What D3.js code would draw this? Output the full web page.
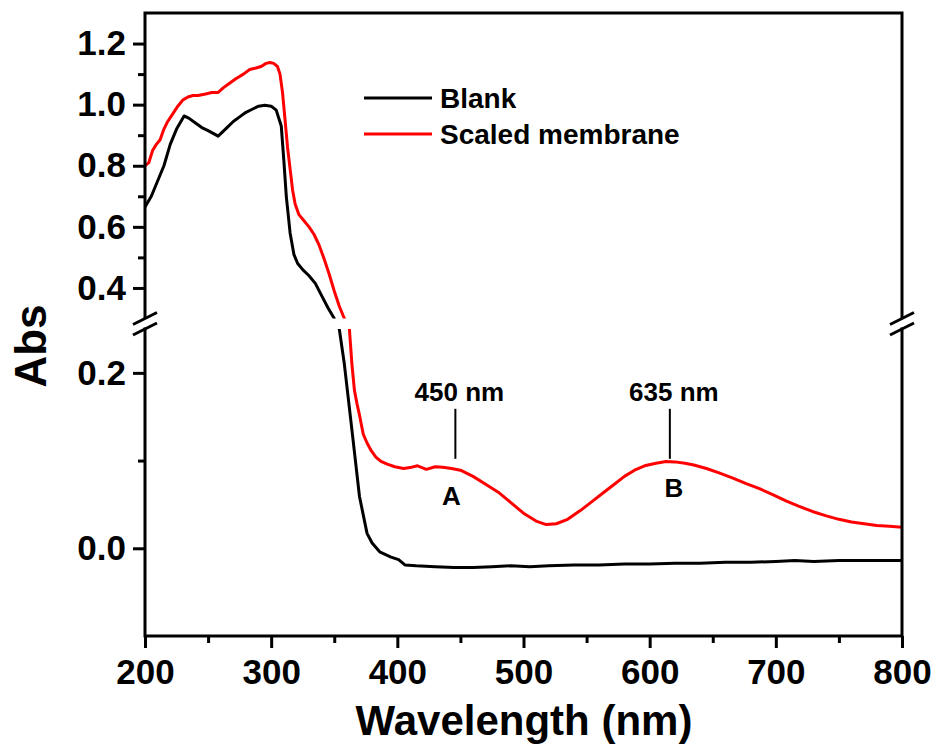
<!DOCTYPE html>
<html>
<head>
<meta charset="utf-8">
<script src="https://cdn.jsdelivr.net/npm/d3@7"></script>
<style>
	body { margin: 0; background: #fff; }
	text { font-family: "Liberation Sans", Arial, sans-serif; font-weight: bold; fill: #000; }
</style>
</head>
<body>
<svg id="chart"></svg>
<script>
const W = 936;
const H = 747;

// Blank (black)
const blankWl = [200, 205, 210, 215, 220, 225, 231, 235, 240, 245, 250, 258, 265, 270, 275, 280, 285, 290, 295, 300, 304, 308, 310, 312, 315, 318, 321, 325, 330, 335, 340, 345, 350, 354, 358, 364, 370, 376, 380, 386, 395, 401, 406, 415, 430, 445, 460, 475, 490, 505, 520, 540, 560, 580, 600, 620, 640, 660, 680, 700, 715, 730, 750, 770, 800];
const blankAbs = [0.665, 0.70, 0.75, 0.80, 0.87, 0.92, 0.963, 0.955, 0.94, 0.925, 0.915, 0.897, 0.925, 0.945, 0.96, 0.975, 0.985, 0.995, 0.998, 0.995, 0.982, 0.93, 0.82, 0.70, 0.58, 0.51, 0.48, 0.46, 0.44, 0.415, 0.375, 0.335, 0.30, 0.25, 0.21, 0.135, 0.059, 0.017, 0.006, -0.004, -0.010, -0.013, -0.019, -0.020, -0.021, -0.022, -0.022, -0.021, -0.020, -0.021, -0.020, -0.019, -0.019, -0.018, -0.018, -0.017, -0.017, -0.016, -0.016, -0.015, -0.014, -0.015, -0.014, -0.014, -0.014];

// Scaled membrane (red)
const membraneWl = [200, 203, 206, 209, 212, 215, 218, 222, 226, 230, 234, 238, 242, 248, 253, 258, 262, 267, 272, 278, 283, 288, 292, 296, 299, 302, 305, 307, 309, 311, 313, 315, 317, 319, 322, 326, 330, 334, 338, 342, 346, 350, 354, 358, 362, 364, 366, 368, 370, 373, 376, 379, 383, 387, 392, 398, 405, 410, 416, 423, 430, 436, 443, 450, 460, 470, 480, 490, 500, 510, 518, 526, 535, 545, 555, 563, 572, 580, 588, 596, 605, 613, 620, 628, 635, 645, 655, 666, 676, 687, 698, 708, 718, 729, 740, 750, 760, 770, 780, 790, 800];
const membraneAbs = [0.80, 0.81, 0.85, 0.87, 0.885, 0.92, 0.945, 0.97, 0.995, 1.015, 1.025, 1.03, 1.03, 1.035, 1.04, 1.04, 1.055, 1.07, 1.085, 1.10, 1.115, 1.12, 1.125, 1.135, 1.138, 1.135, 1.125, 1.10, 1.04, 0.95, 0.86, 0.79, 0.72, 0.675, 0.64, 0.62, 0.60, 0.575, 0.54, 0.495, 0.445, 0.39, 0.34, 0.30, 0.25, 0.21, 0.18, 0.165, 0.152, 0.13, 0.12, 0.112, 0.104, 0.099, 0.096, 0.093, 0.091, 0.092, 0.094, 0.090, 0.093, 0.0925, 0.091, 0.089, 0.082, 0.073, 0.064, 0.052, 0.040, 0.031, 0.027, 0.028, 0.033, 0.043, 0.054, 0.063, 0.073, 0.082, 0.089, 0.094, 0.097, 0.099, 0.0985, 0.097, 0.095, 0.091, 0.086, 0.080, 0.074, 0.068, 0.061, 0.054, 0.048, 0.042, 0.037, 0.033, 0.030, 0.028, 0.026, 0.025, 0.024];

const xTicks = [200, 300, 400, 500, 600, 700, 800];
const xMinorTicks = [250, 350, 450, 550, 650, 750];
const yUpperTicks = [0.4, 0.6, 0.8, 1.0, 1.2];
const yUpperMinor = [0.5, 0.7, 0.9, 1.1];
const yLowerTicks = [0.0, 0.2];
const yLowerMinor = [0.1];

const seriesNames = ["Blank", "Scaled membrane"];
const seriesColors = ["#000000", "#ff0000"];

// peak markers: label, wavelength of leader line, letter
const peaks = [
	{label: "450 nm", wl: 446, letter: "A"},
	{label: "635 nm", wl: 616, letter: "B"}
];

const plotLeft = 145, plotRight = 902, plotTop = 13, plotBottom = 636;
const upperBottom = 318.5, lowerTop = 329;

const svg = d3.select("#chart").attr("width", W).attr("height", H);

const x = d3.scaleLinear().domain([200, 800]).range([plotLeft, plotRight]);
const yUp = d3.scaleLinear().domain([0.3, 1.3]).range([upperBottom, plotTop]);
const yLo = d3.scaleLinear().domain([-0.1, 0.25]).range([plotBottom, lowerTop]);
// piecewise scale so the line runs through the break
const yAll = d3.scaleLinear().domain([-0.1, 0.25, 0.3, 1.3]).range([plotBottom, lowerTop, upperBottom, plotTop]);

let defs = svg.append("defs");
defs.append("clipPath").attr("id", "clipUp").append("rect")
	.attr("x", plotLeft).attr("y", plotTop).attr("width", plotRight - plotLeft).attr("height", upperBottom - plotTop);
defs.append("clipPath").attr("id", "clipLo").append("rect")
	.attr("x", plotLeft).attr("y", lowerTop).attr("width", plotRight - plotLeft).attr("height", plotBottom - lowerTop);

const line = d3.line().x(d => x(d[0])).y(d => yAll(d[1]));
const series = [
	d3.zip(blankWl, blankAbs),
	d3.zip(membraneWl, membraneAbs)
];

["clipUp", "clipLo"].forEach(clip => {
	let g = svg.append("g").attr("clip-path", "url(#" + clip + ")");
	series.forEach((s, i) => {
		g.append("path")
			.attr("d", line(s))
			.attr("fill", "none")
			.attr("stroke", seriesColors[i])
			.attr("stroke-width", 3)
			.attr("stroke-linejoin", "round");
	});
});

// axes
function styleAxis(g) {
	g.select(".domain").remove();
	g.selectAll(".tick line").attr("stroke", "#000").attr("stroke-width", 3);
	g.selectAll(".tick text").style("font-size", "35px").attr("fill", "#000");
}

svg.append("g").attr("transform", `translate(${plotLeft},0)`)
	.call(d3.axisLeft(yUp).tickValues(yUpperTicks).tickFormat(d3.format(".1f")).tickSize(12).tickPadding(7))
	.call(styleAxis);
svg.append("g").attr("transform", `translate(${plotLeft},0)`)
	.call(d3.axisLeft(yUp).tickValues(yUpperMinor).tickFormat("").tickSize(7))
	.call(styleAxis);
svg.append("g").attr("transform", `translate(${plotLeft},0)`)
	.call(d3.axisLeft(yLo).tickValues(yLowerTicks).tickFormat(d3.format(".1f")).tickSize(12).tickPadding(7))
	.call(styleAxis);
svg.append("g").attr("transform", `translate(${plotLeft},0)`)
	.call(d3.axisLeft(yLo).tickValues(yLowerMinor).tickFormat("").tickSize(7))
	.call(styleAxis);
svg.append("g").attr("transform", `translate(0,${plotBottom})`)
	.call(d3.axisBottom(x).tickValues(xTicks).tickFormat(d3.format("d")).tickSize(12).tickPadding(11))
	.call(styleAxis);
svg.append("g").attr("transform", `translate(0,${plotBottom})`)
	.call(d3.axisBottom(x).tickValues(xMinorTicks).tickFormat("").tickSize(7))
	.call(styleAxis);

// frame with the break
let frame = svg.append("g").attr("stroke", "#000").attr("stroke-width", 3).attr("fill", "none");
frame.append("path").attr("d", `M${plotLeft},${upperBottom}V${plotTop}H${plotRight}V${upperBottom}`);
frame.append("path").attr("d", `M${plotLeft},${lowerTop}V${plotBottom}H${plotRight}V${lowerTop}`).attr("stroke-linecap", "square");
[plotLeft, plotRight].forEach(ax => {
	[upperBottom, lowerTop].forEach(cy => {
		frame.append("line")
			.attr("x1", ax - 12).attr("y1", cy + 6)
			.attr("x2", ax + 12).attr("y2", cy - 6);
	});
});

// legend
seriesNames.forEach((name, i) => {
	let ly = 98 + i * 36;
	svg.append("line")
		.attr("x1", 364).attr("x2", 432).attr("y1", ly).attr("y2", ly)
		.attr("stroke", seriesColors[i]).attr("stroke-width", 3);
	svg.append("text")
		.attr("x", 440).attr("y", ly + 10)
		.style("font-size", "28px")
		.text(name);
});

// peak annotations
peaks.forEach(p => {
	svg.append("line")
		.attr("x1", x(p.wl)).attr("x2", x(p.wl))
		.attr("y1", yLo(0.159)).attr("y2", yLo(0.102))
		.attr("stroke", "#000").attr("stroke-width", 2);
	svg.append("text")
		.attr("x", x(p.wl) + 4).attr("y", yLo(0.168))
		.attr("text-anchor", "middle")
		.style("font-size", "26px")
		.text(p.label);
	svg.append("text")
		.attr("x", x(p.wl) - 4 + (p.letter === "B" ? 8 : 0)).attr("y", p.letter === "A" ? yLo(0.049) : yLo(0.058))
		.attr("text-anchor", "middle")
		.style("font-size", "26px")
		.text(p.letter);
});

// axis titles
svg.append("text")
	.attr("transform", "translate(46,346) rotate(-90)")
	.attr("text-anchor", "middle")
	.style("font-size", "44px")
	.text("Abs");
svg.append("text")
	.attr("x", 524).attr("y", 735)
	.attr("text-anchor", "middle")
	.style("font-size", "42px")
	.text("Wavelength (nm)");
</script>
</body>
</html>
